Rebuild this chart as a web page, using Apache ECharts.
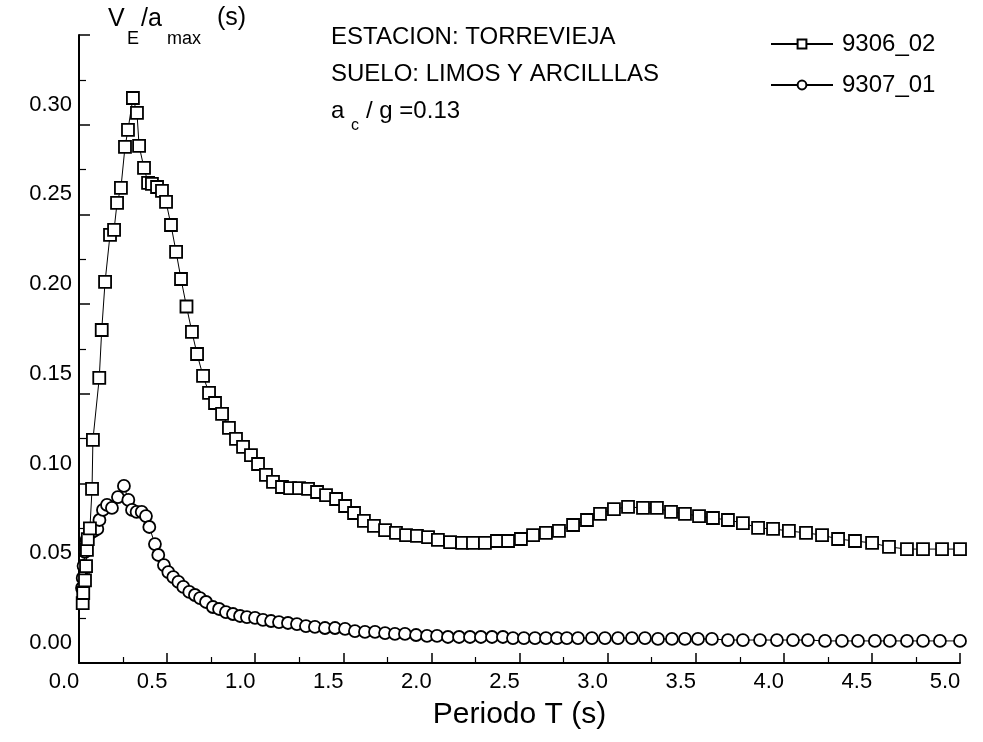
<!DOCTYPE html>
<html>
<head>
<meta charset="utf-8">
<script src="https://cdn.jsdelivr.net/npm/echarts@6/dist/echarts.min.js"></script>
<style>
  html, body { margin: 0; padding: 0; background: #fff; }
  #chart { width: 983px; height: 742px; }
</style>
</head>
<body>
<div id="chart"></div>
<script>
// Period axis (s) and normalised spectral ordinates for record 9306_02
const periodA = [0.021,0.024,0.034,0.040,0.045,0.050,0.062,0.074,0.079,0.115,0.129,0.148,0.176,0.199,0.216,0.238,0.261,0.278,0.306,0.329,0.341,0.369,0.392,0.414,0.443,0.471,0.494,0.522,0.551,0.579,0.610,0.641,0.670,0.704,0.738,0.772,0.812,0.851,0.891,0.931,0.976,1.016,1.061,1.101,1.152,1.198,1.249,1.300,1.351,1.402,1.459,1.510,1.561,1.617,1.674,1.737,1.799,1.856,1.918,1.981,2.037,2.106,2.174,2.236,2.304,2.372,2.435,2.508,2.577,2.650,2.724,2.804,2.883,2.957,3.036,3.116,3.201,3.280,3.360,3.439,3.519,3.598,3.683,3.768,3.854,3.939,4.029,4.126,4.217,4.308,4.404,4.501,4.597,4.699,4.790,4.898,5.000];
const valuesA = [0.0334,0.039,0.046,0.054,0.063,0.069,0.075,0.097,0.1243,0.1589,0.1856,0.2124,0.2386,0.2414,0.2564,0.2648,0.2876,0.2971,0.3149,0.3066,0.2882,0.2759,0.2676,0.267,0.2653,0.2631,0.2570,0.2441,0.2291,0.2140,0.1987,0.1845,0.1722,0.160,0.1505,0.1449,0.1388,0.1310,0.1249,0.1204,0.1159,0.1109,0.1048,0.1009,0.0981,0.0975,0.0975,0.0970,0.0953,0.0936,0.0914,0.0875,0.0836,0.0792,0.0764,0.0741,0.0725,0.0713,0.0708,0.0702,0.0686,0.0674,0.0669,0.0669,0.0669,0.0680,0.0680,0.0691,0.0713,0.0725,0.0736,0.0769,0.0797,0.0831,0.0858,0.0870,0.0864,0.0864,0.0842,0.0831,0.0819,0.0808,0.0797,0.0780,0.0753,0.0747,0.0736,0.0725,0.0713,0.0691,0.0680,0.0669,0.0647,0.0635,0.0635,0.0635,0.0635];

// Period axis (s) and normalised spectral ordinates for record 9307_01
const periodB = [0.017,0.021,0.026,0.034,0.043,0.066,0.085,0.104,0.116,0.136,0.159,0.187,0.221,0.255,0.280,0.301,0.327,0.356,0.380,0.399,0.431,0.450,0.482,0.507,0.535,0.564,0.592,0.626,0.658,0.687,0.721,0.760,0.795,0.834,0.874,0.914,0.953,0.999,1.044,1.090,1.135,1.186,1.237,1.288,1.339,1.396,1.453,1.510,1.566,1.623,1.680,1.737,1.793,1.850,1.913,1.975,2.032,2.094,2.157,2.219,2.281,2.344,2.406,2.463,2.525,2.588,2.650,2.713,2.769,2.832,2.911,2.985,3.059,3.138,3.212,3.286,3.365,3.439,3.513,3.592,3.683,3.768,3.865,3.961,4.052,4.137,4.234,4.330,4.421,4.517,4.602,4.699,4.790,4.886,5.000];
const valuesB = [0.0418,0.0474,0.0541,0.0619,0.0686,0.0725,0.0736,0.0747,0.0797,0.0853,0.0881,0.0864,0.0925,0.0987,0.0909,0.0853,0.0842,0.0842,0.0819,0.0758,0.0663,0.0602,0.0546,0.0507,0.0479,0.0452,0.0424,0.0396,0.0379,0.0362,0.0340,0.0312,0.0301,0.0284,0.0273,0.0262,0.0256,0.0251,0.0240,0.0234,0.0228,0.0223,0.0217,0.0206,0.0201,0.0195,0.0195,0.0190,0.0178,0.0173,0.0173,0.0167,0.0162,0.0162,0.0156,0.0151,0.0151,0.0145,0.0145,0.0145,0.0145,0.0145,0.0145,0.0139,0.0139,0.0139,0.0139,0.0139,0.0139,0.0139,0.0139,0.0139,0.0139,0.0139,0.0139,0.0134,0.0134,0.0134,0.0134,0.0134,0.0128,0.0128,0.0128,0.0128,0.0128,0.0128,0.0123,0.0123,0.0123,0.0123,0.0123,0.0123,0.0123,0.0123,0.0123];

const seriesNames = ['9306_02', '9307_01'];
const stationLines = ['ESTACION: TORREVIEJA', 'SUELO: LIMOS Y ARCILLLAS'];
const accelLabel = ['a', 'c', '/ g =0.13'];
const yTitle = ['V', 'E', '/a', 'max', '(s)'];
const xTitle = 'Periodo T (s)';

const FONT = '"Liberation Sans", Arial, Helvetica, sans-serif';
const INK = '#000';

function pairs(xs, ys) { return xs.map((x, i) => [x, ys[i]]); }

function txt(x, y, text, size) {
  return { type: 'text', left: x, top: y, silent: true,
    style: { text: text, fill: INK, font: size + 'px ' + FONT } };
}

const chart = echarts.init(document.getElementById('chart'), null, { renderer: 'canvas' });

const markerStyle = { color: '#fff', borderColor: INK, borderWidth: 1.8 };

chart.setOption({
  backgroundColor: '#fff',
  animation: false,
  grid: { left: 79, right: 23, top: 35, bottom: 79, containLabel: false },
  xAxis: {
    type: 'value', min: 0, max: 5, interval: 0.5,
    name: xTitle, nameLocation: 'middle', nameGap: 37,
    nameTextStyle: { fontFamily: FONT, fontSize: 30, color: INK },
    axisLine: { lineStyle: { color: INK, width: 2 } },
    axisTick: { inside: true, length: 10, lineStyle: { color: INK, width: 1.5 } },
    minorTick: { show: true, splitNumber: 2, length: 6, lineStyle: { color: INK, width: 1.2 } },
    splitLine: { show: false },
    axisLabel: { fontFamily: FONT, fontSize: 22, color: INK, margin: 8,
      padding: [0, 30, 0, 0], formatter: v => v.toFixed(1) }
  },
  yAxis: {
    type: 'value', min: 0, max: 0.35, interval: 0.05,
    axisLine: { show: true, lineStyle: { color: INK, width: 2 } },
    axisTick: { show: true, inside: true, length: 11, lineStyle: { color: INK, width: 1.5 } },
    minorTick: { show: true, splitNumber: 2, length: 7, lineStyle: { color: INK, width: 1.2 } },
    splitLine: { show: false },
    axisLabel: { fontFamily: FONT, fontSize: 22, color: INK, margin: 7,
      verticalAlign: 'bottom', lineHeight: 40,
      formatter: v => (v > 0.34 ? '' : v.toFixed(2)) }
  },
  legend: {
    data: seriesNames,
    orient: 'vertical', left: 765, top: 27,
    itemWidth: 62, itemHeight: 11, itemGap: 17,
    textStyle: { fontFamily: FONT, fontSize: 24, color: INK, padding: [0, 0, 0, 4] }
  },
  series: [
    {
      name: seriesNames[0], type: 'line', data: pairs(periodA, valuesA),
      symbol: 'rect', symbolSize: 12, showAllSymbol: true,
      lineStyle: { color: INK, width: 1 }, itemStyle: markerStyle, z: 3
    },
    {
      name: seriesNames[1], type: 'line', data: pairs(periodB, valuesB),
      symbol: 'circle', symbolSize: 12, showAllSymbol: true,
      lineStyle: { color: INK, width: 1 }, itemStyle: markerStyle, z: 2
    }
  ],
  graphic: [
    txt(108, 7, yTitle[0], 25),
    txt(127, 30, yTitle[1], 18),
    txt(141, 7, yTitle[2], 25),
    txt(167, 30, yTitle[3], 18),
    txt(217, 6, yTitle[4], 25),
    txt(331, 25, stationLines[0], 24),
    txt(331, 62, stationLines[1], 24),
    txt(331, 99, accelLabel[0], 24),
    txt(351, 118, accelLabel[1], 16),
    txt(366, 99, accelLabel[2], 24)
  ]
});
</script>
</body>
</html>
